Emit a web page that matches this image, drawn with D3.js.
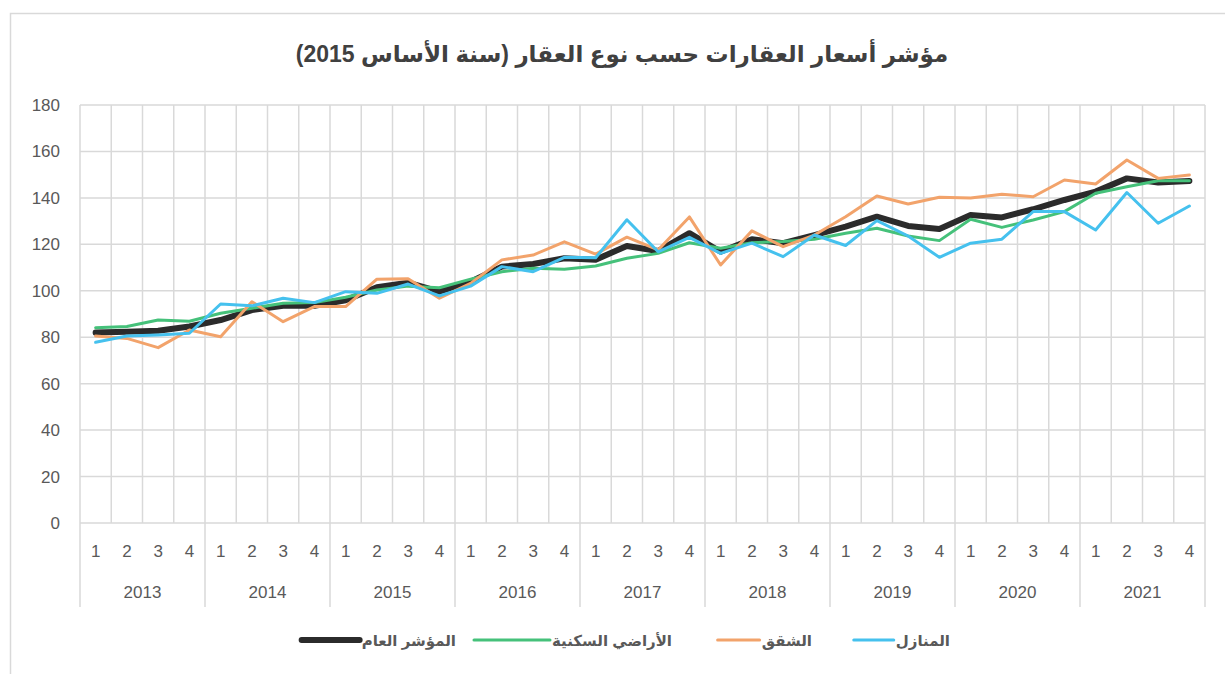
<!DOCTYPE html>
<html>
  <head>
    <meta charset="utf-8">
    <title>مؤشر أسعار العقارات حسب نوع العقار</title>
    <script src="https://d3js.org/d3.v7.min.js"></script>
    <style>
      body { margin: 0; background: #fff; }
      .tick-label { font-family: "Liberation Sans", Arial, sans-serif; font-size: 17px; fill: #595959; }
      .title { font-family: "Liberation Sans", "DejaVu Sans", sans-serif; font-size: 23px; font-weight: bold; fill: #404040; }
      .legend-label { font-family: "Liberation Sans", "DejaVu Sans", sans-serif; font-size: 15px; font-weight: bold; fill: #595959; }
    </style>
  </head>
  <body>
    <div id="chart"></div>
    <script>
      // Categories
      const years = ["2013", "2014", "2015", "2016", "2017", "2018", "2019", "2020", "2021"];
      const quarters = ["1", "2", "3", "4"];
      const yTicks = [0, 20, 40, 60, 80, 100, 120, 140, 160, 180];

      // Series values (one per quarter, 2013Q1 .. 2021Q4)
      const houses = [77.8, 80.5, 81, 81.7, 94.3, 93.5, 96.8, 94.9, 99.6, 98.9, 102.9, 97.8,
        102, 110.4, 108.2, 114.4, 114.2, 130.6, 116.8, 123, 116.1, 120.5, 114.7, 124,
        119.5, 130.2, 123.6, 114.4, 120.5, 122.2, 134.1, 134.1, 126.2, 142.3, 129.1, 136.5];
      const apartments = [80.5, 79.5, 75.5, 83.1, 80.2, 95.3, 86.7, 93.2, 93.2, 105, 105.2, 96.8,
        103.2, 113.3, 115.4, 121.1, 115.8, 123.1, 117.6, 131.8, 111.1, 125.8, 119, 124,
        131.9, 140.8, 137.4, 140.3, 140, 141.6, 140.5, 147.7, 146, 156.3, 148.4, 149.9];
      const land = [84.1, 84.6, 87.4, 86.9, 90.3, 92.5, 94.6, 94.9, 97.2, 100.3, 102, 101.3,
        105, 108.2, 109.7, 109.3, 110.7, 114, 116.1, 120.7, 118.3, 120.7, 121.2, 122.2,
        124.8, 126.9, 123.6, 121.6, 130.8, 127.3, 130.5, 134.1, 142, 144.8, 147.4, 147.4];
      const general = [82, 82.4, 82.8, 84.6, 87.4, 91.7, 93.5, 93.5, 95.9, 101.5, 103.5, 99.6,
        103.9, 110.4, 111.5, 114, 113.4, 119.3, 117.1, 124.8, 116.8, 122.2, 120.5, 124,
        127.6, 131.9, 127.9, 126.6, 132.6, 131.6, 135.1, 139.1, 142.7, 148.4, 146.6, 147.3];

      const seriesNames = ["المنازل", "الشقق", "الأراضي السكنية", "المؤشر العام"];
      const seriesColors = ["#45c1ee", "#f2a36b", "#45c17a", "#2b2b2b"];
      const seriesWidths = [3, 3, 3, 6];
      const seriesValues = [houses, apartments, land, general];

      const W = 1225, H = 674;
      const margin = { top: 105, right: 20, bottom: 151, left: 80 };
      const width = 1205 - margin.left;
      const height = 523 - margin.top;

      const svg = d3.select("#chart").append("svg")
        .attr("width", W).attr("height", H);

      // outer frame
      svg.append("rect")
        .attr("x", 10.5).attr("y", 13.5)
        .attr("width", W).attr("height", H)
        .attr("fill", "#fff").attr("stroke", "#d9d9d9").attr("stroke-width", 1.5);

      svg.append("text")
        .attr("class", "title")
        .attr("x", 622).attr("y", 62)
        .attr("text-anchor", "middle")
        .attr("direction", "rtl")
        .text("مؤشر أسعار العقارات حسب نوع العقار (سنة الأساس 2015)");

      const g = svg.append("g").attr("transform", `translate(${margin.left},${margin.top})`);

      const cats = years.flatMap((y) => quarters.map((q) => y + "-" + q));
      const x = d3.scaleBand().domain(cats).range([0, width]).padding(0);
      const y = d3.scaleLinear().domain([0, 180]).range([height, 0]);

      // horizontal grid
      g.append("g").selectAll("line").data(yTicks).enter().append("line")
        .attr("x1", 0).attr("x2", width)
        .attr("y1", (d) => y(d)).attr("y2", (d) => y(d))
        .attr("stroke", "#d9d9d9").attr("stroke-width", 1.5);

      // vertical grid at category boundaries
      const bounds = cats.map((c) => x(c)).concat([width]);
      g.append("g").selectAll("line").data(bounds).enter().append("line")
        .attr("x1", (d) => d).attr("x2", (d) => d)
        .attr("y1", 0).attr("y2", height)
        .attr("stroke", "#d9d9d9").attr("stroke-width", 1.5);

      // year separators below the axis
      const yearBounds = years.map((yr) => x(yr + "-1")).concat([width]);
      g.append("g").selectAll("line").data(yearBounds).enter().append("line")
        .attr("x1", (d) => d).attr("x2", (d) => d)
        .attr("y1", height).attr("y2", height + 84)
        .attr("stroke", "#d9d9d9").attr("stroke-width", 1.5);

      // y labels
      g.append("g").selectAll("text").data(yTicks).enter().append("text")
        .attr("class", "tick-label")
        .attr("x", -20).attr("y", (d) => y(d))
        .attr("dy", "0.35em")
        .attr("text-anchor", "end")
        .text((d) => d);

      // quarter labels
      g.append("g").selectAll("text").data(cats).enter().append("text")
        .attr("class", "tick-label")
        .attr("x", (d) => x(d) + x.bandwidth() / 2)
        .attr("y", height + 34)
        .attr("text-anchor", "middle")
        .text((d) => d.split("-")[1]);

      // year labels
      g.append("g").selectAll("text").data(years).enter().append("text")
        .attr("class", "tick-label")
        .attr("x", (d) => x(d + "-1") + 2 * x.bandwidth())
        .attr("y", height + 75)
        .attr("text-anchor", "middle")
        .text((d) => d);

      // lines (general index drawn first, underneath)
      const line = d3.line()
        .x((d, i) => x(cats[i]) + x.bandwidth() / 2)
        .y((d) => y(d));

      [3, 2, 1, 0].forEach((k) => {
        g.append("path")
          .datum(seriesValues[k])
          .attr("fill", "none")
          .attr("stroke", seriesColors[k])
          .attr("stroke-width", seriesWidths[k])
          .attr("stroke-linejoin", "round")
          .attr("stroke-linecap", "round")
          .attr("d", line);
      });

      // legend (right to left): text right edge, then the sample line to its left
      const legendRight = [950, 812, 672, 456];
      const legendLineLen = [40, 42, 76, 58];
      const legend = svg.append("g");
      legendRight.forEach((tx, k) => {
        const t = legend.append("text")
          .attr("class", "legend-label")
          .attr("x", tx).attr("y", 646)
          .attr("text-anchor", "start")
          .attr("direction", "rtl")
          .text(seriesNames[k]);
        const left = tx - t.node().getComputedTextLength() - 2;
        legend.append("line")
          .attr("x1", left - legendLineLen[k]).attr("x2", left)
          .attr("y1", 640).attr("y2", 640)
          .attr("stroke", seriesColors[k])
          .attr("stroke-width", seriesWidths[k])
          .attr("stroke-linecap", "round");
      });
    </script>
  </body>
</html>
